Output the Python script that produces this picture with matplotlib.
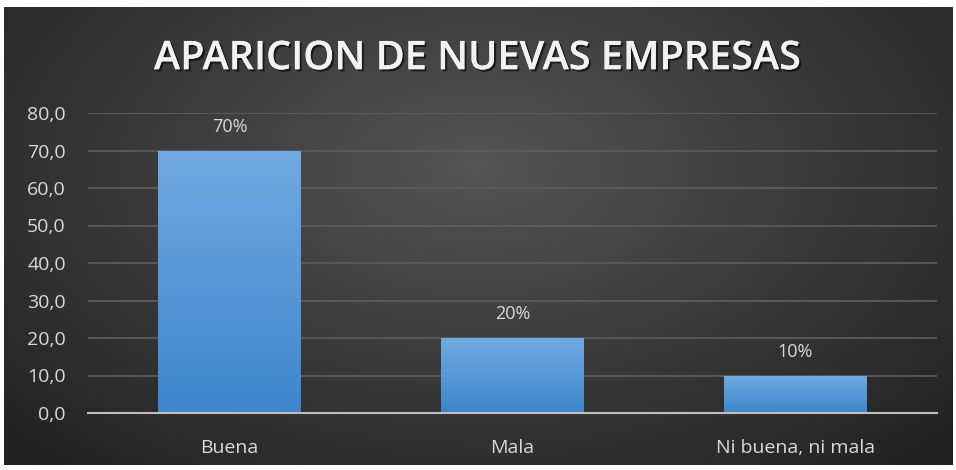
import numpy as np
import matplotlib
matplotlib.use("Agg")
import matplotlib.pyplot as plt
import matplotlib.patheffects as pe

# datos del grafico
categorias = ["Buena", "Mala", "Ni buena, ni mala"]
valores = [70, 20, 10]
etiquetas = ["70%", "20%", "10%"]
yticks = [0, 10, 20, 30, 40, 50, 60, 70, 80]

plt.rcParams['font.family'] = ['Open Sans', 'DejaVu Sans']

fig = plt.figure(figsize=(9.56, 4.70), dpi=100)
fig.patch.set_facecolor("white")

# fondo oscuro con degradado radial
bg = fig.add_axes([0.004, 0.01, 0.992, 0.975])
yy, xx = np.mgrid[-1:1:200j, -1:1:400j]
r = np.sqrt(xx ** 2 + ((yy + 0.3) * 0.8) ** 2)
bg.imshow(r, cmap=matplotlib.colors.LinearSegmentedColormap.from_list(
    "bg", ["#555555", "#3a3a3a", "#222222"]), aspect="auto", vmin=0, vmax=1.4)
bg.axis("off")

ax = fig.add_axes([88 / 956, 57 / 470, 849 / 956, 300 / 470])
ax.set_facecolor("none")
x = np.arange(len(categorias))
barras = ax.bar(x, valores, width=0.505, color="#5b9bd5", zorder=3)

# degradado de las barras
grad = np.linspace(0, 1, 100).reshape(-1, 1)
cm_bar = matplotlib.colors.LinearSegmentedColormap.from_list("b", ["#3d86cc", "#72a9e0"])
for b in barras:
    bx, by = b.get_x(), b.get_y()
    im = ax.imshow(grad, cmap=cm_bar, origin="lower", aspect="auto",
                   extent=[bx, bx + b.get_width(), by, by + b.get_height()], zorder=3)
    im.set_clip_path(b)

for xi, v, t in zip(x, valores, etiquetas):
    ax.text(xi, v + 6.3, t, ha="center", va="center", color="#d9d9d9", fontsize=13)

ax.set_xlim(-0.5, 2.5)
ax.set_ylim(0, 80)
ax.set_yticks(yticks)
ax.set_yticklabels([f"{v:.1f}".replace(".", ",") for v in yticks])
ax.set_xticks(x)
ax.set_xticklabels(categorias)
ax.tick_params(colors="#d9d9d9", labelsize=14, length=0)
ax.tick_params(axis="y", pad=16)
ax.tick_params(axis="x", pad=19)
ax.grid(axis="y", color="#5e5e5e", linewidth=1.2, zorder=0)
for s in ["top", "right", "left"]:
    ax.spines[s].set_visible(False)
ax.spines["bottom"].set_color("#bfbfbf")
ax.spines["bottom"].set_linewidth(1.5)
ax.spines["bottom"].set_zorder(4)

fig.text(0.5, 0.874, "APARICION DE NUEVAS EMPRESAS", ha="center", va="center",
         color="#f2f2f2", fontsize=28.5, fontweight="semibold",
         path_effects=[pe.withSimplePatchShadow(offset=(1.5, -1.5), shadow_rgbFace="black", alpha=0.6),
                       pe.Normal()])

fig.savefig("out.png", dpi=100, facecolor=fig.get_facecolor())
